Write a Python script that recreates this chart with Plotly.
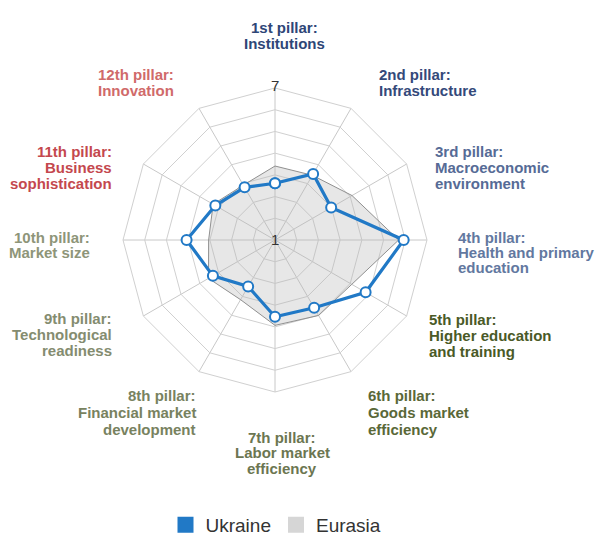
import plotly.graph_objects as go

# ---------------- data ----------------
pillars = [
    "1st pillar:<br>Institutions",
    "2nd pillar:<br>Infrastructure",
    "3rd pillar:<br>Macroeconomic<br>environment",
    "4th pillar:<br>Health and primary<br>education",
    "5th pillar:<br>Higher education<br>and training",
    "6th pillar:<br>Goods market<br>efficiency",
    "7th pillar:<br>Labor market<br>efficiency",
    "8th pillar:<br>Financial market<br>development",
    "9th pillar:<br>Technological<br>readiness",
    "10th pillar:<br>Market size",
    "11th pillar:<br>Business<br>sophistication",
    "12th pillar:<br>Innovation",
]
ukraine = [3.24, 4.01, 3.56, 6.08, 5.13, 4.09, 4.03, 3.12, 3.83, 4.49, 3.72, 3.40]
eurasia = [3.92, 3.95, 4.51, 5.88, 4.50, 4.44, 4.37, 3.72, 4.03, 3.62, 3.82, 3.50]
series_names = ["Ukraine", "Eurasia"]
r_min, r_max = 1, 7
radial_labels = ["7", "1"]

# ---------------- style / layout ----------------
W, H = 605, 540
OFF = 8  # page body margin in the browser
CX, CY, RAD = 275 - OFF, 240 - OFF, 152
BLUE = "#2179c6"
label_colors = ["#2e4677", "#34497a", "#566b96", "#6278a0", "#4a5a27", "#5a6838",
                "#6c7651", "#78825f", "#848c70", "#8e9579", "#c4484e", "#d06a6a"]
# (anchor x px, xanchor, first line y px, line step px) in screen pixels
label_pos = [
    (284, "center", 28, 16), (377, "left", 74, 16), (433, "left", 152, 15.7),
    (456, "left", 237, 15.5), (427, "left", 320, 15.5), (366, "left", 395, 17),
    (282, "center", 437, 15.8), (198, "right", 395, 17), (114, "right", 318, 16),
    (92, "right", 237, 15.5), (114, "right", 152, 15.8), (176, "right", 74, 16),
]

theta = pillars + [pillars[0]]

fig = go.Figure()
fig.add_trace(go.Scatterpolar(
    r=eurasia + [eurasia[0]], theta=theta, mode="lines", fill="toself",
    fillcolor="rgba(180,180,180,0.32)", line=dict(color="#8f8f8f", width=1),
    name=series_names[1], showlegend=False, hoverinfo="skip"))
fig.add_trace(go.Scatterpolar(
    r=ukraine + [ukraine[0]], theta=theta, mode="lines+markers",
    line=dict(color=BLUE, width=3.2),
    marker=dict(size=10, color="white", line=dict(color=BLUE, width=2)),
    name=series_names[0], showlegend=False))
# legend entries (square swatches)
fig.add_trace(go.Scatterpolar(r=[None], theta=[pillars[0]], mode="markers",
                              marker=dict(symbol="square", size=18, color=BLUE),
                              name=series_names[0]))
fig.add_trace(go.Scatterpolar(r=[None], theta=[pillars[0]], mode="markers",
                              marker=dict(symbol="square", size=18, color="#d6d6d6"),
                              name=series_names[1]))

ticks = [r_min + (r_max - r_min) * k / 7 for k in range(1, 8)]

fig.update_layout(
    width=W, height=H, margin=dict(l=0, r=0, t=0, b=0),
    paper_bgcolor="white", plot_bgcolor="white",
    font=dict(family="Liberation Sans, Arial, sans-serif", color="#333"),
    polar=dict(
        domain=dict(x=[(CX - RAD) / W, (CX + RAD) / W],
                    y=[1 - (CY + RAD) / H, 1 - (CY - RAD) / H]),
        bgcolor="white",
        gridshape="linear",
        radialaxis=dict(range=[r_min, r_max], tickvals=ticks, showticklabels=False,
                        ticks="", showline=False, gridcolor="#d0d0d0", gridwidth=1,
                        angle=90),
        angularaxis=dict(rotation=90, direction="clockwise", showticklabels=False,
                         ticks="", showline=True, linecolor="#d0d0d0", linewidth=1,
                         gridcolor="#c8c8c8", gridwidth=1),
    ),
    legend=dict(orientation="h", x=268 / W, xanchor="center",
                y=1 - 517 / H, yanchor="middle",
                font=dict(size=19, color="#333"),
                itemwidth=30, bgcolor="rgba(0,0,0,0)"),
)

annotations = []
for i, lab in enumerate(pillars):
    ax, anc, y0, step = label_pos[i]
    for j, line in enumerate(lab.split("<br>")):
        annotations.append(dict(
            x=(ax - OFF) / W, y=1 - (y0 - OFF + j * step) / H,
            xref="paper", yref="paper",
            xanchor=anc, yanchor="middle", showarrow=False,
            text="<b>" + line + "</b>",
            font=dict(size=15, color=label_colors[i],
                      family="Liberation Sans, Arial, sans-serif")))
# radial axis extreme labels
annotations.append(dict(x=CX / W, y=1 - (CY - RAD - 3) / H, xref="paper", yref="paper",
                        xanchor="center", yanchor="middle", showarrow=False,
                        text=radial_labels[0], font=dict(size=15, color="#333")))
annotations.append(dict(x=CX / W, y=1 - CY / H, xref="paper", yref="paper",
                        xanchor="center", yanchor="middle", showarrow=False,
                        text=radial_labels[1], font=dict(size=15, color="#333")))
fig.update_layout(annotations=annotations)

fig.write_html("out.html")
